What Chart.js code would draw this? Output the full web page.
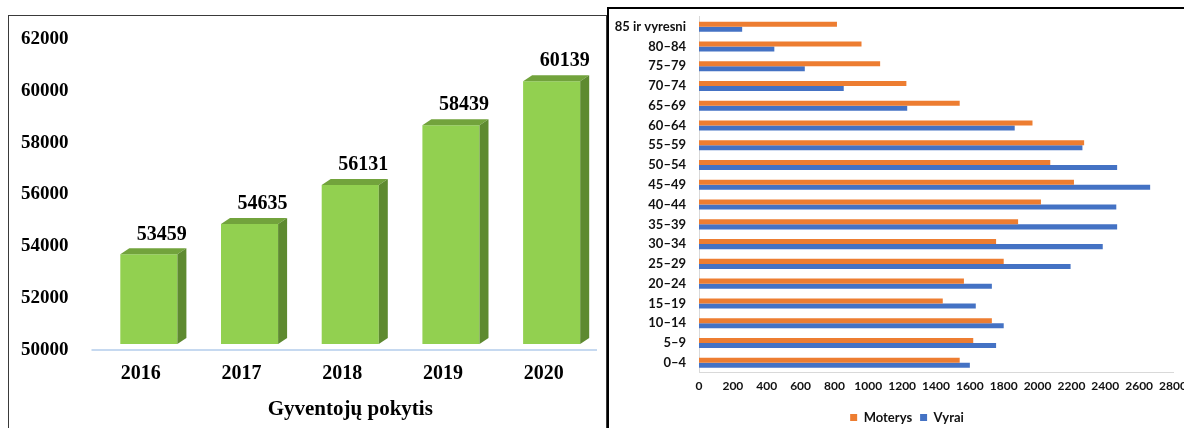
<!DOCTYPE html>
<html>
<head>
<meta charset="utf-8">
<script src="https://cdn.jsdelivr.net/npm/chart.js@4.4.1/dist/chart.umd.min.js"></script>
<style>
    html, body { margin: 0; padding: 0; background: #fff; overflow: hidden; }
    body { width: 1184px; height: 428px; position: relative; }
    #left-frame { position: absolute; left: 8px; top: 15px; width: 597px; height: 440px; border: 1px solid #3a3a3a; }
    #right-frame { position: absolute; left: 607px; top: 7px; width: 600px; height: 440px; border: 2px solid #000; }
    #left-wrap { position: absolute; left: 9px; top: 16px; width: 596px; height: 412px; }
    #right-wrap { position: absolute; left: 610px; top: 6px; width: 594px; height: 428px; }
</style>
</head>
<body>
<div id="left-frame"></div>
<div id="right-frame"></div>
<div id="left-wrap"><canvas id="chart-pop"></canvas></div>
<div id="right-wrap"><canvas id="chart-age"></canvas></div>

<script>
/* DATA */
const popYears = ["2016", "2017", "2018", "2019", "2020"];
const popValues = [53459, 54635, 56131, 58439, 60139];
const popTicks = [50000, 52000, 54000, 56000, 58000, 60000, 62000];

const ageGroups = ["85 ir vyresni", "80–84", "75–79", "70–74", "65–69", "60–64", "55–59", "50–54", "45–49",
    "40–44", "35–39", "30–34", "25–29", "20–24", "15–19", "10–14", "5–9", "0–4"];
const women = [815, 960, 1070, 1225, 1540, 1970, 2275, 2075, 2215, 2020, 1885, 1755, 1800, 1565, 1440, 1730, 1620, 1540];
const men = [255, 445, 625, 855, 1230, 1865, 2265, 2470, 2665, 2465, 2470, 2385, 2195, 1730, 1635, 1800, 1755, 1600];
const ageTicks = [0, 200, 400, 600, 800, 1000, 1200, 1400, 1600, 1800, 2000, 2200, 2400, 2600, 2800];

const serif = "'Liberation Serif', 'Times New Roman', serif";
const sans = "Lato, 'Open Sans', sans-serif";

function plainNumber(v) { return String(v); }

/* 3D look for the left bars + value labels + floor line */
const bar3d = {
    id: 'bar3d',
    afterDatasetsDraw(chart) {
        const ctx = chart.ctx;
        const meta = chart.getDatasetMeta(0);
        const values = chart.data.datasets[0].data;
        const dx = 9, dy = 6;
        ctx.save();
        meta.data.forEach(function (bar, i) {
            const l = bar.x - bar.width / 2;
            const r = bar.x + bar.width / 2;
            const t = bar.y;
            const b = bar.base;
            ctx.fillStyle = '#72a33c';
            ctx.beginPath();
            ctx.moveTo(l, t); ctx.lineTo(l + dx, t - dy); ctx.lineTo(r + dx, t - dy); ctx.lineTo(r, t);
            ctx.closePath(); ctx.fill();
            ctx.fillStyle = '#5e8a30';
            ctx.beginPath();
            ctx.moveTo(r, t); ctx.lineTo(r + dx, t - dy); ctx.lineTo(r + dx, b - dy); ctx.lineTo(r, b);
            ctx.closePath(); ctx.fill();

            ctx.fillStyle = '#000';
            ctx.font = 'bold 20px ' + serif;
            ctx.textAlign = 'center';
            ctx.textBaseline = 'middle';
            ctx.fillText(String(values[i]), bar.x + 13, t - 20);
        });
        const a = chart.chartArea;
        ctx.strokeStyle = '#c6d9f0';
        ctx.lineWidth = 2;
        ctx.beginPath();
        ctx.moveTo(a.left - 7, a.bottom + 6);
        ctx.lineTo(a.right - 5, a.bottom + 6);
        ctx.stroke();
        ctx.restore();
    }
};

/* LEFT CHART */
let ctxPop = document.getElementById("chart-pop").getContext("2d");
let chartPop = new Chart(ctxPop, {
    type: "bar",
    data: {
        labels: popYears,
        datasets: [
            {
                label: "Gyventojai",
                data: popValues,
                base: popTicks[0],
                backgroundColor: "#92d050",
                barPercentage: 0.567,
                categoryPercentage: 1
            }
        ]
    },
    options: {
        responsive: true,
        maintainAspectRatio: false,
        animation: false,
        layout: { padding: { left: 12, top: 17, right: 3, bottom: 1.4 } },
        plugins: { legend: { display: false }, tooltip: { enabled: false } },
        scales: {
            x: {
                grid: { display: false, drawTicks: true, tickLength: 15 },
                border: { display: false },
                ticks: { color: "#000", font: { family: serif, size: 20, weight: "bold" }, padding: 3, labelOffset: -8 },
                title: {
                    display: true,
                    text: "Gyventojų pokytis",
                    color: "#000",
                    font: { family: serif, size: 21, weight: "bold" },
                    padding: { top: 8.4, bottom: 4 }
                }
            },
            y: {
                min: popTicks[0],
                max: popTicks[popTicks.length - 1],
                afterBuildTicks: function (s) { s.ticks = popTicks.map(v => ({ value: v })); },
                afterFit: function (s) { s.width = 77.5; },
                grid: { display: false },
                border: { display: false },
                ticks: {
                    color: "#000", font: { family: serif, size: 19, weight: "bold" },
                    padding: 3, crossAlign: "far", labelOffset: 6, callback: plainNumber
                }
            }
        }
    },
    plugins: [bar3d]
});

/* RIGHT CHART */
let ctxAge = document.getElementById("chart-age").getContext("2d");
let chartAge = new Chart(ctxAge, {
    type: "bar",
    data: {
        labels: ageGroups,
        datasets: [
            { label: "Moterys", data: women, backgroundColor: "#ed7d31", categoryPercentage: 0.51, barPercentage: 1 },
            { label: "Vyrai", data: men, backgroundColor: "#4472c4", categoryPercentage: 0.51, barPercentage: 1 }
        ]
    },
    options: {
        indexAxis: "y",
        responsive: true,
        maintainAspectRatio: false,
        animation: false,
        layout: { padding: 0 },
        plugins: {
            legend: {
                position: "bottom",
                labels: { boxWidth: 7, boxHeight: 7, padding: 8, color: "#111", font: { family: sans, size: 13, weight: "bold" } }
            },
            tooltip: { enabled: false }
        },
        scales: {
            x: {
                min: ageTicks[0],
                max: ageTicks[ageTicks.length - 1],
                afterBuildTicks: function (s) { s.ticks = ageTicks.map(v => ({ value: v })); },
                afterFit: function (s) { s.height += 4; s.paddingRight = 31; },
                grid: { display: false, drawTicks: false },
                border: { color: "#d9d9d9" },
                ticks: {
                    autoSkip: false, maxRotation: 0, padding: 6, color: "#111",
                    font: { family: sans, size: 12, weight: "bold" }, callback: plainNumber
                }
            },
            y: {
                afterFit: function (s) { s.width = 89; },
                grid: { display: false, tickLength: 10 },
                border: { color: "#d9d9d9" },
                ticks: { padding: 3, color: "#111", font: { family: sans, size: 13, weight: "bold" } }
            }
        }
    }
});
</script>
</body>
</html>
